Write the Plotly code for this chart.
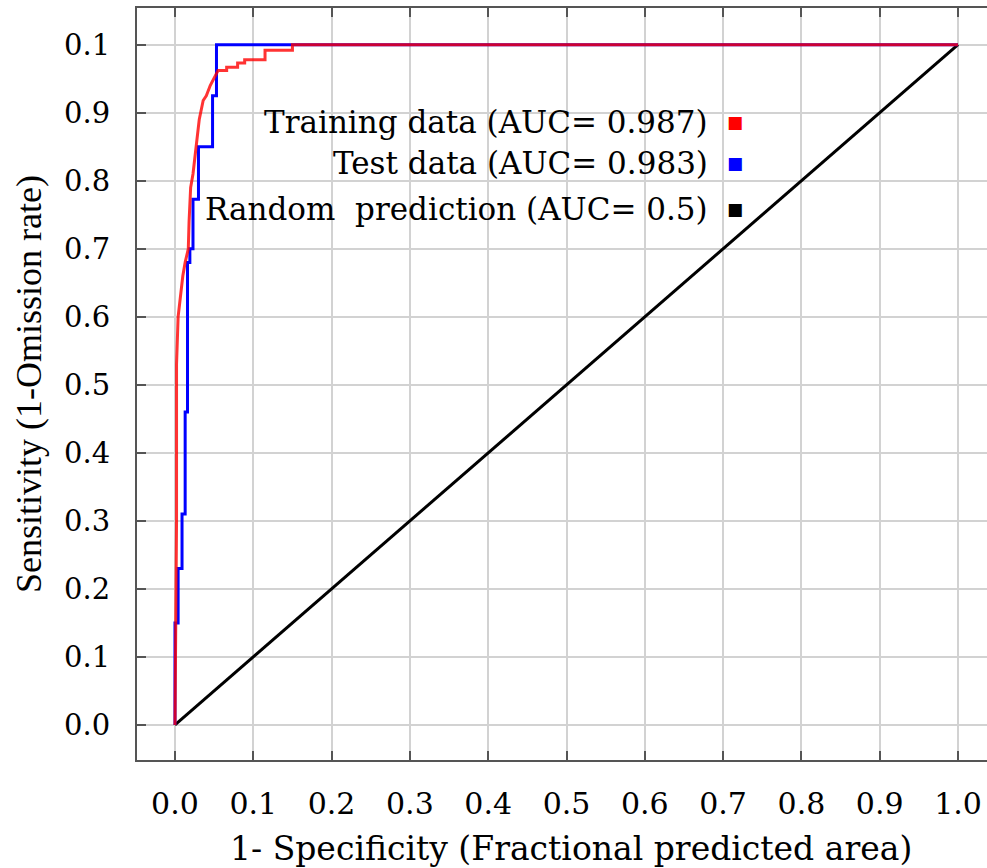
import plotly.graph_objects as go

# ---- data ----
train_fpr = [0.0, 0.001, 0.002, 0.002, 0.004, 0.006, 0.008, 0.010, 0.013, 0.017,
             0.018, 0.020, 0.023, 0.026, 0.029, 0.031, 0.036, 0.040, 0.045, 0.051,
             0.055, 0.066, 0.066, 0.080, 0.080, 0.089, 0.089, 0.115, 0.115, 0.150,
             0.150, 1.0]
train_tpr = [0.0, 0.15, 0.30, 0.53, 0.60, 0.62, 0.64, 0.66, 0.68, 0.70,
             0.74, 0.79, 0.81, 0.84, 0.87, 0.89, 0.918, 0.925, 0.94, 0.952,
             0.962, 0.962, 0.967, 0.967, 0.973, 0.973, 0.978, 0.978, 0.992, 0.992,
             1.0, 1.0]

test_fpr = [0.0, 0.0, 0.004, 0.004, 0.009, 0.009, 0.013, 0.013, 0.016, 0.016,
            0.019, 0.019, 0.023, 0.023, 0.030, 0.030, 0.048, 0.048, 0.053, 0.053, 1.0]
test_tpr = [0.0, 0.15, 0.15, 0.23, 0.23, 0.31, 0.31, 0.46, 0.46, 0.68,
            0.68, 0.70, 0.70, 0.773, 0.773, 0.85, 0.85, 0.925, 0.925, 1.0, 1.0]

random_fpr = [0.0, 1.0]
random_tpr = [0.0, 1.0]

x_tick_vals = [0.0, 0.1, 0.2, 0.3, 0.4, 0.5, 0.6, 0.7, 0.8, 0.9, 1.0]
x_tick_text = ["0.0", "0.1", "0.2", "0.3", "0.4", "0.5", "0.6", "0.7", "0.8", "0.9", "1.0"]
y_tick_vals = [0.0, 0.1, 0.2, 0.3, 0.4, 0.5, 0.6, 0.7, 0.8, 0.9, 1.0]
y_tick_text = ["0.0", "0.1", "0.2", "0.3", "0.4", "0.5", "0.6", "0.7", "0.8", "0.9", "0.1"]

legend_labels = ["Training data (AUC= 0.987)", "Test data (AUC= 0.983)",
                 "Random  prediction (AUC= 0.5)"]
legend_colors = ["#ff0000", "#0000ff", "#000000"]

x_title = "1- Specificity (Fractional predicted area)"
y_title = "Sensitivity (1-Omission rate)"

SERIF = "DejaVu Serif"
TIMES = "Liberation Serif"

fig = go.Figure()
fig.add_trace(go.Scatter(x=random_fpr, y=random_tpr, mode="lines",
                         line=dict(color="#000000", width=3), showlegend=False))
fig.add_trace(go.Scatter(x=test_fpr, y=test_tpr, mode="lines",
                         line=dict(color="#0000ff", width=3), showlegend=False))
fig.add_trace(go.Scatter(x=train_fpr, y=train_tpr, mode="lines",
                         line=dict(color="rgba(255,0,0,0.8)", width=3), showlegend=False))

# legend drawn as text with coloured keys on the right
legend_y = [0.887, 0.826, 0.759]
for lab, col, yy in zip(legend_labels, legend_colors, legend_y):
    fig.add_annotation(x=0.683, y=yy, xref="x", yref="y", text=lab, showarrow=False,
                       xanchor="right", yanchor="middle",
                       font=dict(family=SERIF, size=31, color="#000000"))
    fig.add_annotation(x=0.715, y=yy, xref="x", yref="y", text="■", showarrow=False,
                       xanchor="center", yanchor="middle",
                       font=dict(family=SERIF, size=17, color=col))

# x-axis title, slightly right of the plot centre as in the reference
fig.add_annotation(x=0.5106, y=0, xref="paper", yref="paper", yshift=-88,
                   text=x_title, showarrow=False, xanchor="center", yanchor="middle",
                   font=dict(family=SERIF, size=33, color="#000000"))

fig.update_layout(
    width=987, height=868,
    margin=dict(l=137, r=0, t=8, b=108),
    paper_bgcolor="white", plot_bgcolor="white",
    showlegend=False,
)
fig.update_xaxes(
    range=[-0.0485, 1.037], tickvals=x_tick_vals, ticktext=x_tick_text,
    showgrid=True, gridcolor="#d2d2d2", gridwidth=2, zeroline=False,
    showline=True, linecolor="#555555", linewidth=2, mirror="ticks",
    ticks="inside", ticklen=9, tickwidth=1.5, tickcolor="#555555",
    ticklabelstandoff=16,
    tickfont=dict(family=SERIF, size=30, color="#000000"),
)
fig.update_yaxes(
    range=[-0.0515, 1.054], tickvals=y_tick_vals, ticktext=y_tick_text,
    showgrid=True, gridcolor="#d2d2d2", gridwidth=2, zeroline=False,
    showline=True, linecolor="#555555", linewidth=2, mirror=False,
    ticks="inside", ticklen=9, tickwidth=1.5, tickcolor="#555555",
    ticklabelstandoff=19,
    tickfont=dict(family=SERIF, size=29, color="#000000"),
    title=dict(text=y_title, font=dict(family=TIMES, size=36, color="#000000"), standoff=11),
)

fig.write_html("out.html", config={"displayModeBar": False},
               post_script="document.body.style.margin='0';")
